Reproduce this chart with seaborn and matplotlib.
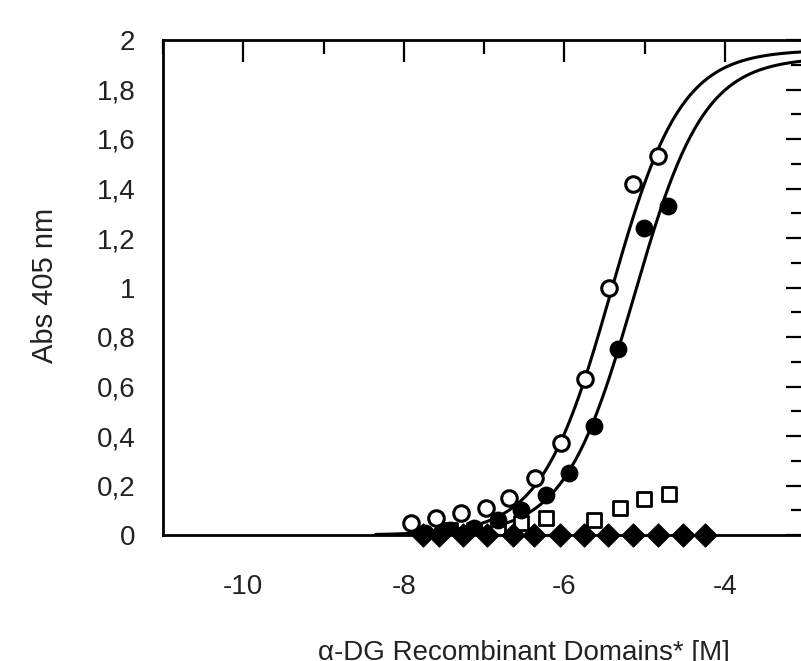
import numpy as np
import seaborn as sns
import matplotlib.pyplot as plt
from matplotlib.ticker import MultipleLocator, FixedLocator

# log10 concentration [M]
open_x = [-4.83, -5.14, -5.44, -5.74, -6.04, -6.37, -6.69, -6.98, -7.29, -7.60, -7.91]
open_y = [1.53, 1.42, 1.00, 0.63, 0.37, 0.23, 0.15, 0.11, 0.09, 0.07, 0.05]

filled_x = [-4.71, -5.01, -5.325, -5.625, -5.94, -6.225, -6.54, -6.83, -7.12, -7.42, -7.73]
filled_y = [1.33, 1.24, 0.75, 0.44, 0.25, 0.16, 0.10, 0.06, 0.03, 0.02, 0.01]

square_x = [-4.70, -5.01, -5.31, -5.625, -6.225, -6.54, -6.83, -7.12, -7.42]
square_y = [0.165, 0.145, 0.11, 0.06, 0.07, 0.05, 0.03, 0.02, 0.02]

diamond_x = [-4.24, -4.525, -4.83, -5.14, -5.45, -5.76, -6.05, -6.375, -6.64,
             -6.96, -7.26, -7.56, -7.76]
diamond_y = [0.0] * len(diamond_x)

# sigmoidal fits (top, logEC50, hill slope)
open_fit = (1.96, -5.42, 1.0)
filled_fit = (1.93, -5.13, 1.0)

y_ticks = [0, 0.2, 0.4, 0.6, 0.8, 1.0, 1.2, 1.4, 1.6, 1.8, 2.0]
y_labels = ['0', '0,2', '0,4', '0,6', '0,8', '1', '1,2', '1,4', '1,6', '1,8', '2']
x_ticks = [-10, -8, -6, -4]
x_labels = ['-10', '-8', '-6', '-4']

sns.set_style('white')
plt.rcParams['font.family'] = ['Liberation Sans', 'DejaVu Sans']

fig = plt.figure(figsize=(8.01, 6.61), dpi=100)
ax = fig.add_axes([163 / 801, 1 - 535 / 661, 642 / 801, 495 / 661])

xs = np.linspace(-8.35, -3, 300)
for top, ec50, hill in (open_fit, filled_fit):
    ys = top / (1 + 10 ** ((ec50 - xs) * hill))
    sns.lineplot(x=xs, y=ys, ax=ax, color='black', lw=2.2, sort=False, estimator=None)

sns.scatterplot(x=diamond_x, y=diamond_y, ax=ax, marker='D', s=135, color='black',
                edgecolor='black', linewidth=1, clip_on=False, zorder=5)
sns.scatterplot(x=square_x, y=square_y, ax=ax, marker='s', s=100, color='white',
                edgecolor='black', linewidth=2, zorder=4)
sns.scatterplot(x=filled_x, y=filled_y, ax=ax, marker='o', s=140, color='black',
                edgecolor='black', linewidth=1, zorder=6)
sns.scatterplot(x=open_x, y=open_y, ax=ax, marker='o', s=125, color='white',
                edgecolor='black', linewidth=2.2, zorder=6)

ax.set_xlim(-11, -3)
ax.set_ylim(0, 2)
ax.xaxis.set_major_locator(FixedLocator(x_ticks))
ax.set_xticklabels(x_labels)
ax.xaxis.set_minor_locator(MultipleLocator(1))
ax.yaxis.set_major_locator(FixedLocator(y_ticks))
ax.set_yticklabels(y_labels)
ax.yaxis.set_minor_locator(MultipleLocator(0.1))

for s in ax.spines.values():
    s.set_linewidth(2)
    s.set_color('black')

ax.tick_params(axis='both', which='both', direction='in', top=True, right=True,
               color='black', width=1.6, labelsize=20, labelcolor='#222222')
ax.tick_params(axis='x', which='major', length=16, pad=28)
ax.tick_params(axis='x', which='minor', length=10)
ax.tick_params(axis='y', which='major', length=14, pad=20)
ax.tick_params(axis='y', which='minor', length=10)

fig.text(45 / 801, 1 - 285 / 661, 'Abs 405 nm', rotation=90, fontsize=21,
         ha='center', va='center', color='#222222')
fig.text(318 / 801, 1 - 640 / 661, 'α-DG Recombinant Domains* [M]', fontsize=20,
         ha='left', va='top', color='#222222')

fig.savefig('out.png', dpi=100)
